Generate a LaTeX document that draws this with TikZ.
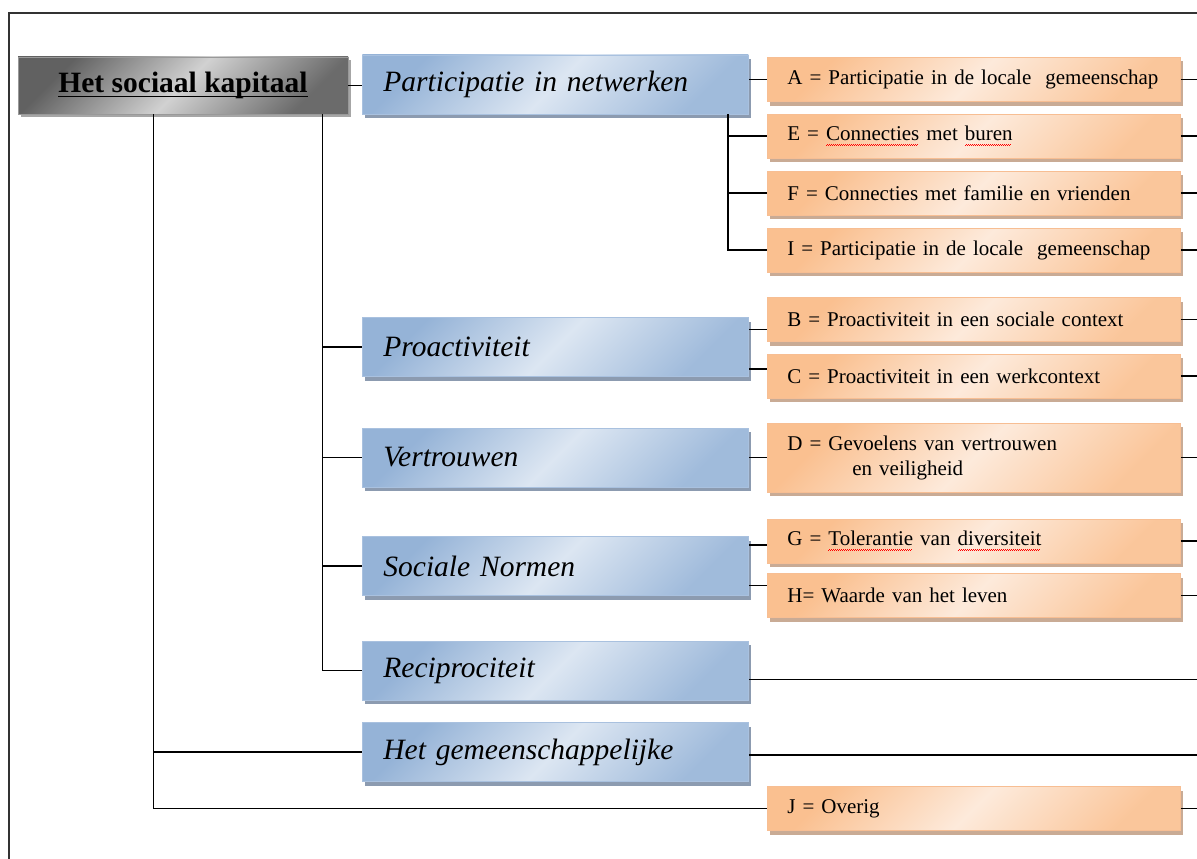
\documentclass[tikz,border=0pt]{standalone}
\usepackage{fontspec}
\setmainfont{Liberation Serif}
\usetikzlibrary{shadows}

\definecolor{catdark}{HTML}{95B3D7}
\definecolor{catlight}{HTML}{DCE6F2}
\definecolor{catline}{HTML}{A9C1DF}
\definecolor{catshadow}{HTML}{8C9BB0}
\definecolor{codedark}{HTML}{FAC090}
\definecolor{codelight}{HTML}{FDEADB}
\definecolor{codeline}{HTML}{F7BE93}
\definecolor{codeshadow}{HTML}{C9AB95}

\newcommand{\ulined}[1]{\setbox0\hbox{#1}\rlap{\rule[-4.5pt]{\wd0}{1.5pt}}\box0\relax}
\newcommand{\redwave}[1]{\setbox0\hbox{#1}\rlap{\color{red}\leaders\hbox{\rule[-4.6pt]{1pt}{0.6pt}\rule[-3.8pt]{1pt}{0.6pt}}\hskip\wd0\relax}\box0\relax}

\tikzset{
  conn/.style={draw=black, line width=1.6pt},
  frame/.style={draw=black!80, line width=1.6pt},
  rootbox/.style={rectangle, draw=black!40, line width=0.8pt,
    minimum width=330pt, minimum height=57pt, inner sep=0pt,
    top color=black!62, bottom color=black!58, middle color=black!18, shading angle=45,
    drop shadow={shadow xshift=2.5pt, shadow yshift=-3pt, fill=black!35, opacity=1},
    font=\fontsize{29.5}{32}\selectfont\bfseries},
  catbox/.style={rectangle, anchor=west, draw=catline, line width=0.8pt,
    minimum height=59pt, text width=344pt, inner xsep=21pt, inner ysep=0pt, align=left,
    top color=catdark, bottom color=catdark!85!catlight, middle color=catlight, shading angle=45,
    drop shadow={shadow xshift=2.5pt, shadow yshift=-4pt, fill=catshadow, opacity=1},
    font=\fontsize{29.5}{32}\selectfont\itshape},
  codebox/.style={rectangle, anchor=west, draw=codeline, line width=0.8pt,
    minimum height=44pt, text width=373pt, inner xsep=20pt, inner ysep=0pt, align=left,
    top color=codedark, bottom color=codedark!85!codelight, middle color=codelight, shading angle=45,
    drop shadow={shadow xshift=2.5pt, shadow yshift=-4pt, fill=codeshadow, opacity=1},
    font=\fontsize{21}{25}\selectfont}
}

\begin{document}
\begin{tikzpicture}[x=1pt, y=-1pt]
      \useasboundingbox (0, 0) rectangle (1197, 859);
      \draw[frame] (9, 859) -- (9, 13) -- (1197, 13);
      \coordinate (rim) at (1197, 0);

      % root
       \node[rootbox] (root) at (183, 85.5) {\ulined{Het sociaal kapitaal}};

      % categories
       \node[catbox] (part)   at (362, 84.5) {Participatie in netwerken};
       \node[catbox] (proact) at (362, 347)  {Proactiviteit};
       \node[catbox] (vertr)  at (362, 457.5) {Vertrouwen};
       \node[catbox] (normen) at (362, 566)  {Sociale Normen};
       \node[catbox] (recip)  at (362, 670.5) {Reciprociteit};
       \node[catbox] (gemeen) at (362, 752)  {Het gemeenschappelijke};

      % codes
       \node[codebox] (codeA) at (767, 79.5)  {A = Participatie in de locale\ \ gemeenschap};
       \node[codebox] (codeE) at (767, 136)   {E = \redwave{Connecties} met \redwave{buren}};
       \node[codebox] (codeF) at (767, 193)   {F = Connecties met familie en vrienden};
       \node[codebox] (codeI) at (767, 250)   {I = Participatie in de locale\ \ gemeenschap};
       \node[codebox] (codeB) at (767, 319.5) {B = Proactiviteit in een sociale context};
       \node[codebox] (codeC) at (767, 376)   {C = Proactiviteit in een werkcontext};
       \node[codebox, minimum height=69pt] (codeD) at (767, 457.5)
            {D = Gevoelens van vertrouwen\\\hspace*{65pt}en veiligheid};
       \node[codebox] (codeG) at (767, 541)   {G = \redwave{Tolerantie} van \redwave{diversiteit}};
       \node[codebox] (codeH) at (767, 595.5) {H= Waarde van het leven};
       \node[codebox] (codeJ) at (767, 808.5) {J = Overig};

      % root branches
       \draw[conn] (root.east) -- (root.east -| part.west);
       \draw[conn] ([xshift=136pt]root.south west) |- (codeJ.west);
       \draw[conn] ([xshift=136pt]root.south west |- gemeen.west) -- (gemeen.west);
       \draw[conn] ([xshift=-26pt]root.south east) |- (recip.west);
       \draw[conn] ([xshift=-26pt]root.south east |- proact.west) -- (proact.west);
       \draw[conn] ([xshift=-26pt]root.south east |- vertr.west) -- (vertr.west);
       \draw[conn] ([xshift=-26pt]root.south east |- normen.west) -- (normen.west);

      % category branches
       \draw[conn] (part.east |- codeA.west) -- (codeA.west);
       \draw[conn] ([xshift=-21pt]part.south east) |- (codeI.west);
       \draw[conn] ([xshift=-21pt]part.south east |- codeE.west) -- (codeE.west);
       \draw[conn] ([xshift=-21pt]part.south east |- codeF.west) -- (codeF.west);
       \draw[conn] ([yshift=-10pt]codeB.west -| proact.east) -- ([yshift=-10pt]codeB.west);
       \draw[conn] ([yshift=7pt]codeC.west -| proact.east) -- ([yshift=7pt]codeC.west);
       \draw[conn] (vertr.east |- codeD.west) -- (codeD.west);
       \draw[conn] ([yshift=-4pt]codeG.west -| normen.east) -- ([yshift=-4pt]codeG.west);
       \draw[conn] ([yshift=10pt]codeH.west -| normen.east) -- ([yshift=10pt]codeH.west);
       \draw[conn] ([yshift=-9pt]recip.east) -- ([yshift=-9pt]recip.east -| rim);
       \draw[conn] ([yshift=-3pt]gemeen.east) -- ([yshift=-3pt]gemeen.east -| rim);

      % stubs to the right
       \foreach \c in {codeA, codeE, codeF, codeI, codeB, codeC, codeD, codeG, codeH, codeJ}
         \draw[conn] (\c.east) -- (\c.east -| rim);
\end{tikzpicture}
\end{document}
